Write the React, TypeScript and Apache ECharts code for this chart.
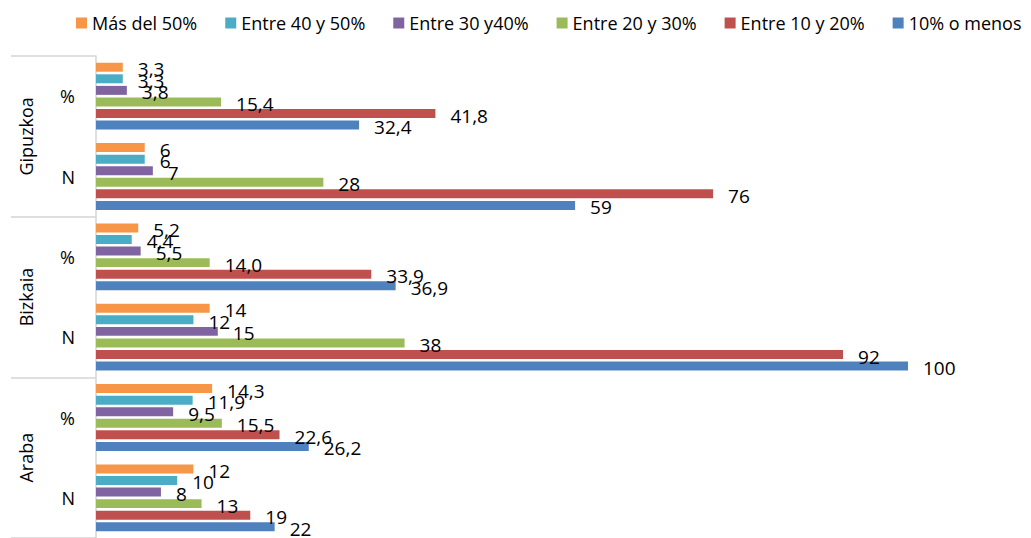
import React, { useEffect, useRef } from "react";
import * as echarts from "echarts";

// Categories, bottom to top (ECharts category y axis runs upward)
const categories = ["Araba|N", "Araba|%", "Bizkaia|N", "Bizkaia|%", "Gipuzkoa|N", "Gipuzkoa|%"];
const regions = ["Araba", "Bizkaia", "Gipuzkoa"];

const seriesNames = [
  "Más del 50%",
  "Entre 40 y 50%",
  "Entre 30 y40%",
  "Entre 20 y 30%",
  "Entre 10 y 20%",
  "10% o menos",
];

const masDel50 = [12, 14.3, 14, 5.2, 6, 3.3];
const entre40y50 = [10, 11.9, 12, 4.4, 6, 3.3];
const entre30y40 = [8, 9.5, 15, 5.5, 7, 3.8];
const entre20y30 = [13, 15.5, 38, 14.0, 28, 15.4];
const entre10y20 = [19, 22.6, 92, 33.9, 76, 41.8];
const menos10 = [22, 26.2, 100, 36.9, 59, 32.4];

const seriesValues = [masDel50, entre40y50, entre30y40, entre20y30, entre10y20, menos10];
const colors = ["#F79646", "#4BACC6", "#8064A2", "#9BBB59", "#C0504D", "#4F81BD"];

const FONT = "Open Sans";

export default function App() {
  const ref = useRef<HTMLDivElement>(null);

  useEffect(() => {
    if (!ref.current) return;
    const chart = echarts.init(ref.current, null, { renderer: "svg" });
    const option = {
      animation: false,
      textStyle: { fontFamily: FONT },
      legend: {
        data: seriesNames,
        left: 76,
        top: 14,
        width: 1000,
        padding: 0,
        itemWidth: 11,
        itemHeight: 11,
        itemGap: 28,
        icon: "rect",
        textStyle: { fontFamily: FONT, fontSize: 18, color: "#000" },
      },
      grid: { left: 96, right: 123, top: 56, bottom: -2, containLabel: false },
      xAxis: {
        type: "value",
        min: 0,
        max: 100,
        show: false,
      },
      yAxis: [
        {
          type: "category",
          data: categories,
          position: "left",
          axisLine: { show: true, lineStyle: { color: "#d4d4d4", width: 1.5 } },
          axisTick: { show: false },
          splitLine: { show: false },
          axisLabel: {
            margin: 21,
            fontFamily: FONT,
            fontSize: 18,
            color: "#000",
            formatter: (v: string) => v.split("|")[1],
          },
        },
        {
          type: "category",
          data: regions,
          position: "left",
          axisLine: { show: false },
          axisTick: { show: true, length: 85, lineStyle: { color: "#d4d4d4", width: 1.5 } },
          splitLine: { show: false },
          axisLabel: {
            rotate: 90,
            margin: 61,
            fontFamily: FONT,
            fontSize: 18,
            color: "#000",
          },
        },
      ],
      series: seriesNames.map((name, i) => ({
        name,
        type: "bar",
        yAxisIndex: 0,
        data: seriesValues[i],
        barCategoryGap: "16.8%",
        barGap: "29%",
        itemStyle: { color: colors[i] },
        label: {
          show: true,
          position: "right",
          distance: 0,
          offset: [15, 2],
          fontFamily: FONT,
          fontSize: 19,
          color: "#000",
          formatter: (p: any) => {
            const isPct = String(p.name).endsWith("%");
            return isPct
              ? Number(p.value).toFixed(1).replace(".", ",")
              : String(Math.round(Number(p.value)));
          },
        },
      })),
    };
    chart.setOption(option as any);
    return () => chart.dispose();
  }, []);

  return (
    <div
      ref={ref}
      style={{ position: "absolute", left: 0, top: 0, width: 1031, height: 538 }}
    />
  );
}
